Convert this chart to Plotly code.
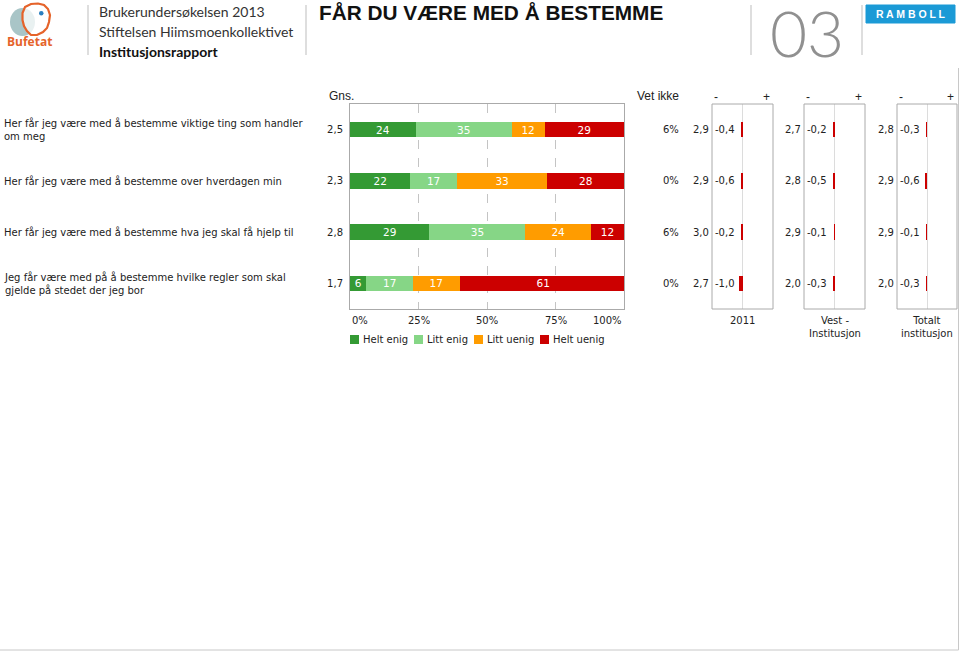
import plotly.graph_objects as go

W, H = 960, 652


def px(x):
    return x / W


def py(y):
    return 1 - y / H


def nor(v, d=1):
    return f"{v:.{d}f}".replace(".", ",")


# ---------------- data ----------------
question_ids = ["q1", "q2", "q3", "q4"]
questions = [
    "Her får jeg være med å bestemme viktige ting som handler<br>om meg",
    "Her får jeg være med å bestemme over hverdagen min",
    "Her får jeg være med å bestemme hva jeg skal få hjelp til",
    "Jeg får være med på å bestemme hvilke regler som skal<br>gjelde på stedet der jeg bor",
]
series_names = ["Helt enig", "Litt enig", "Litt uenig", "Helt uenig"]
series_colors = ["#349a34", "#86d686", "#ff9c00", "#cc0000"]
helt_enig = [24, 22, 29, 6]
litt_enig = [35, 17, 35, 17]
litt_uenig = [12, 33, 24, 17]
helt_uenig = [29, 28, 12, 61]
series_values = [helt_enig, litt_enig, litt_uenig, helt_uenig]
gns = [2.5, 2.3, 2.8, 1.7]
vet_ikke = [6, 0, 6, 0]

cmp_names = ["2011", "Vest -<br>Institusjon", "Totalt<br>institusjon"]
cmp_2011_value = [2.9, 2.9, 3.0, 2.7]
cmp_2011_diff = [-0.4, -0.6, -0.2, -1.0]
cmp_vest_value = [2.7, 2.8, 2.9, 2.0]
cmp_vest_diff = [-0.2, -0.5, -0.1, -0.3]
cmp_tot_value = [2.8, 2.9, 2.9, 2.0]
cmp_tot_diff = [-0.3, -0.6, -0.1, -0.3]
cmp_values = [cmp_2011_value, cmp_vest_value, cmp_tot_value]
cmp_diffs = [cmp_2011_diff, cmp_vest_diff, cmp_tot_diff]

x_ticks = [0, 25, 50, 75, 100]
x_tick_labels = ["0%", "25%", "50%", "75%", "100%"]

# ---------------- layout constants ----------------
VERD = "DejaVu Sans"
ARIAL = "Liberation Sans"
FS = 10
main_x = (350, 624)
plot_y = (104, 309)
cmp_x = [(712, 773), (804, 865), (897, 957)]
BAR_W = 0.3
TXT = "#222222"

fig = go.Figure()

for name, color, vals in zip(series_names, series_colors, series_values):
    fig.add_trace(go.Bar(
        x=vals, y=question_ids, orientation="h", name=name,
        marker=dict(color=color, line=dict(width=0)),
        width=BAR_W,
        text=[str(v) for v in vals], textposition="inside",
        insidetextanchor="middle", textangle=0,
        textfont=dict(family=VERD, size=FS + 0.5, color="white"),
        constraintext="none",
        showlegend=False, xaxis="x", yaxis="y",
    ))

for i, diffs in enumerate(cmp_diffs):
    fig.add_trace(go.Bar(
        x=diffs, y=question_ids, orientation="h",
        marker=dict(color="#cc0000", line=dict(width=0)),
        width=BAR_W, showlegend=False,
        xaxis=f"x{i + 2}", yaxis="y",
    ))

annotations = []
shapes = []


def ann(**kw):
    kw.setdefault("showarrow", False)
    kw.setdefault("yanchor", "middle")
    annotations.append(kw)


# question labels
for qid, q in zip(question_ids, questions):
    ann(x=px(2), xref="paper", y=qid, yref="y", text=q, xanchor="left", align="left",
        font=dict(family=VERD, size=FS, color=TXT))

# column headers
ann(x=px(327), xref="paper", y=py(96), yref="paper", text="Gns.", xanchor="left",
    font=dict(family=ARIAL, size=12, color=TXT))
ann(x=px(681), xref="paper", y=py(96), yref="paper", text="Vet ikke", xanchor="right",
    font=dict(family=ARIAL, size=12, color=TXT))

# vet ikke values
for qid, v in zip(question_ids, vet_ikke):
    ann(x=px(681), xref="paper", y=qid, yref="y", text=f"{v}%", xanchor="right",
        font=dict(family=VERD, size=FS, color=TXT))

# comparison panels
for i, (name, vals, diffs) in enumerate(zip(cmp_names, cmp_values, cmp_diffs)):
    xr = f"x{i + 2} domain"
    shapes.append(dict(type="rect", xref=xr, yref="y domain", x0=0, x1=1, y0=0, y1=1,
                       line=dict(color="#aaaaaa", width=1), layer="above"))
    ann(x=0, xref=xr, y=py(97), yref="paper", text="-", xanchor="left",
        font=dict(family=ARIAL, size=12, color=TXT))
    ann(x=1, xref=xr, y=py(97), yref="paper", text="+", xanchor="right", xshift=-1,
        font=dict(family=ARIAL, size=12, color=TXT))
    ann(x=0.5, xref=xr, y=py(313), yref="paper", text=name, xanchor="center", yanchor="top",
        font=dict(family=VERD, size=FS, color=TXT))
    for qid, v, d in zip(question_ids, vals, diffs):
        ann(x=0, xref=xr, y=qid, yref="y", text=nor(v), xanchor="right", xshift=-1,
            font=dict(family=VERD, size=FS, color=TXT))
        ann(x=0, xref=xr, y=qid, yref="y", text=nor(d), xanchor="left", xshift=1,
            font=dict(family=VERD, size=FS, color=TXT))

# main x tick labels
for t, lab in zip(x_ticks, x_tick_labels):
    anchor = "left" if t == x_ticks[0] else ("right" if t == x_ticks[-1] else "center")
    ann(x=t, xref="x", y=py(321), yref="paper", text=lab, xanchor=anchor,
        font=dict(family=VERD, size=FS, color=TXT))

# manual legend
legend_x = [350, 414, 474, 540]
for lx, name, color in zip(legend_x, series_names, series_colors):
    shapes.append(dict(type="rect", xref="paper", yref="paper",
                       x0=px(lx), x1=px(lx + 9), y0=py(344), y1=py(335),
                       fillcolor=color, line=dict(width=0)))
    ann(x=px(lx + 11), xref="paper", y=py(339.5), yref="paper", text=name, xanchor="left",
        font=dict(family=VERD, size=FS, color=TXT))

# ---------------- header ----------------
for sx in [88, 306, 751, 862]:
    shapes.append(dict(type="line", xref="paper", yref="paper", x0=px(sx), x1=px(sx),
                       y0=py(5), y1=py(55), line=dict(color="#bdbdbd", width=1)))

# Bufetat logo (approximation)
shapes.append(dict(type="circle", xref="paper", yref="paper", x0=px(10), x1=px(35),
                   y0=py(36), y1=py(8), fillcolor="#a9c5c7", line=dict(width=0)))


def path(points):
    return "M " + " L ".join(f"{px(a):.5f},{py(b):.5f}" for a, b in points) + " Z"


face = [(25, 7), (31, 4), (38, 3.5), (44, 5), (48, 9), (50, 15), (49, 22), (47, 28),
        (43, 32), (37, 35), (31, 35), (27, 31), (24, 26), (22.5, 20), (22.5, 13)]
shapes.append(dict(type="path", xref="paper", yref="paper", path=path(face),
                   fillcolor="rgba(255,255,255,0.75)", line=dict(color="#e5632a", width=2.2)))
shapes.append(dict(type="circle", xref="paper", yref="paper", x0=px(39), x1=px(43.5),
                   y0=py(15.5), y1=py(11), fillcolor="#2a7fc0", line=dict(width=0)))
ann(x=px(29.5), xref="paper", y=py(42), yref="paper", text="<b>Bufetat</b>", xanchor="center",
    font=dict(family="Open Sans", size=12, color="#e5632a"))

ann(x=px(97), xref="paper", y=py(11), yref="paper", text="Brukerundersøkelsen 2013",
    xanchor="left", font=dict(family="Lato", size=14, color="#333333"))
ann(x=px(97), xref="paper", y=py(31), yref="paper", text="Stiftelsen Hiimsmoenkollektivet",
    xanchor="left", font=dict(family="Lato", size=14, color="#333333"))
ann(x=px(97), xref="paper", y=py(52), yref="paper", text="<b>Institusjonsrapport</b>",
    xanchor="left", font=dict(family="Lato", size=14, color="#111111"))
ann(x=px(317), xref="paper", y=py(13), yref="paper", text="<b>FÅR DU VÆRE MED Å BESTEMME</b>",
    xanchor="left", font=dict(family=ARIAL, size=20.8, color="#111111"))
ann(x=px(807), xref="paper", y=py(32), yref="paper", text="03", xanchor="center",
    font=dict(family="Lato", size=64, color="#909090", weight=300))

# Ramboll logo
shapes.append(dict(type="rect", xref="paper", yref="paper", x0=px(866), x1=px(955),
                   y0=py(23), y1=py(5), fillcolor="#1b9ad6", line=dict(color="#1b9ad6", width=1)))
ann(x=px(910.5), xref="paper", y=py(14), yref="paper", text="<b>R A M B O L L</b>",
    xanchor="center", font=dict(family=ARIAL, size=10.5, color="white"))

# page frame (right and bottom)
shapes.append(dict(type="line", xref="paper", yref="paper", x0=px(958.5), x1=px(958.5),
                   y0=py(68), y1=py(650), line=dict(color="#c8c8c8", width=1)))
shapes.append(dict(type="line", xref="paper", yref="paper", x0=px(0), x1=px(958.5),
                   y0=py(650), y1=py(650), line=dict(color="#c8c8c8", width=1)))

# ---------------- axes ----------------
ydom = [py(plot_y[1]), py(plot_y[0])]
layout_axes = dict(
    xaxis=dict(domain=[px(main_x[0]), px(main_x[1])], range=[0, 100], anchor="y",
               tickvals=x_ticks, showticklabels=False, ticks="",
               showgrid=True, gridcolor="#c4c4c4", griddash="dash", gridwidth=1,
               zeroline=False, showline=True, mirror=True, linecolor="#aaaaaa", linewidth=1,
               fixedrange=True),
    yaxis=dict(domain=ydom, type="category", categoryorder="array", categoryarray=question_ids,
               range=[3.5, -0.5], anchor="x", tickvals=question_ids,
               ticktext=[nor(g) for g in gns], ticks="", ticklabelstandoff=4,
               tickfont=dict(family=VERD, size=FS, color=TXT),
               showgrid=False, zeroline=False, showline=True, mirror=True,
               linecolor="#aaaaaa", linewidth=1, fixedrange=True),
)
for i, (a, b) in enumerate(cmp_x):
    layout_axes[f"xaxis{i + 2}"] = dict(
        domain=[px(a), px(b)], range=[-10, 10], anchor="y",
        showticklabels=False, ticks="", showgrid=False,
        zeroline=True, zerolinecolor="#dcdcdc", zerolinewidth=1,
        showline=False, fixedrange=True)

fig.update_layout(
    width=W, height=H, margin=dict(l=0, r=0, t=0, b=0),
    paper_bgcolor="white", plot_bgcolor="white",
    barmode="stack", showlegend=False,
    annotations=annotations, shapes=shapes,
    font=dict(family=VERD, size=FS, color=TXT),
    **layout_axes,
)

fig.write_html("out.html", config={"displayModeBar": False},
               post_script="document.body.style.margin='0';")
